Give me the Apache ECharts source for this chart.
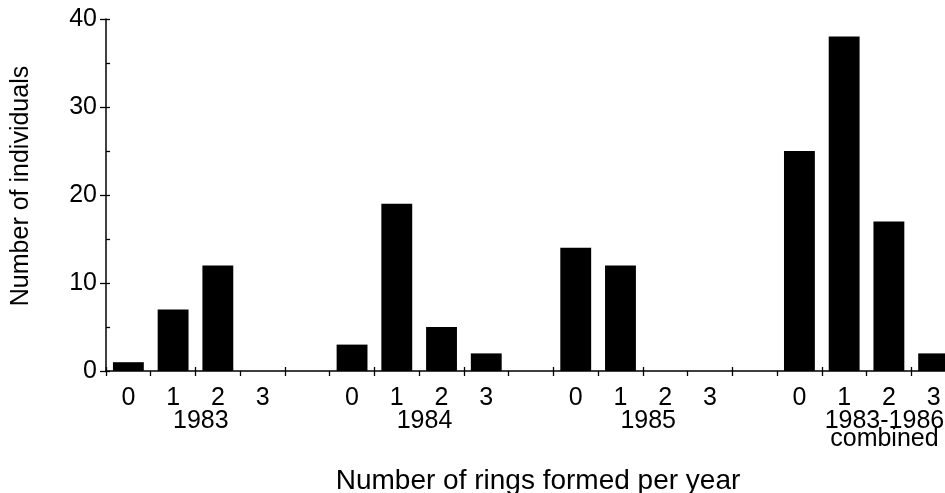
<!DOCTYPE html>
<html>
<head>
<meta charset="utf-8">
<script src="https://cdn.jsdelivr.net/npm/echarts@6/dist/echarts.min.js"></script>
<style>
html,body{margin:0;padding:0;background:#fff;}
#chart{width:945px;height:493px;}
</style>
</head>
<body>
<div id="chart"></div>
<script>
// ---- data ----
const groups = ['1983', '1984', '1985', '1983-1986\ncombined'];
const rings = ['0', '1', '2', '3'];
const counts1983 = [1, 7, 12, 0];
const counts1984 = [3, 19, 5, 2];
const counts1985 = [14, 12, 0, 0];
const countsCombined = [25, 38, 17, 2];
const yTicks = [0, 10, 20, 30, 40];

const groupCounts = [counts1983, counts1984, counts1985, countsCombined];

// build category slots: 4 rings per group + an empty gap slot between groups
const categories = [];
const values = [];
groups.forEach((g, gi) => {
  rings.forEach((r, ri) => {
    categories.push(g + '|' + r);
    values.push(groupCounts[gi][ri]);
  });
  if (gi < groups.length - 1) {
    categories.push('gap' + gi);
    values.push('-');
  }
});

const FONT = "'Liberation Sans', Arial, Helvetica, sans-serif";
const chart = echarts.init(document.getElementById('chart'), null, {renderer: 'canvas'});

const groupLabelPos = [1.62, 6.62, 11.62, 16.9];

chart.setOption({
  animation: false,
  backgroundColor: '#ffffff',
  grid: {left: 106, top: 19, bottom: 122, right: -11, containLabel: false, outerBoundsMode: 'none'},
  xAxis: [
    {
      type: 'category',
      data: categories,
      boundaryGap: true,
      axisLine: {show: true, onZero: false, lineStyle: {color: '#000', width: 1.5}},
      axisTick: {show: true, inside: false, length: 5, lineStyle: {color: '#000', width: 1.3}},
      axisLabel: {
        show: true, interval: 0, margin: 15,
        fontFamily: FONT, fontSize: 25, color: '#000',
        formatter: v => v.startsWith('gap') ? '' : v.split('|')[1]
      },
      splitLine: {show: false},
      name: 'Number of rings formed per year',
      nameLocation: 'middle',
      nameGap: 96,
      nameTextStyle: {fontFamily: FONT, fontSize: 28, color: '#000', padding: [0, 0, 0, 14]}
    },
    {
      type: 'category',
      data: categories,
      gridIndex: 0,
      position: 'bottom',
      axisLine: {show: false, onZero: false},
      axisTick: {show: true, inside: true, length: 4, lineStyle: {color: '#000', width: 1.3}},
      axisLabel: {show: false},
      splitLine: {show: false}
    },
    {
      type: 'value',
      gridIndex: 0,
      position: 'bottom',
      min: -0.5,
      max: categories.length - 0.5,
      axisLine: {show: false, onZero: false},
      axisTick: {show: false},
      splitLine: {show: false},
      axisLabel: {
        show: true,
        customValues: groupLabelPos,
        margin: 41,
        fontFamily: FONT, fontSize: 25, lineHeight: 18, color: '#000',
        formatter: v => {
          const i = groupLabelPos.findIndex(p => Math.abs(p - v) < 1e-6);
          return i >= 0 ? groups[i] : '';
        }
      }
    }
  ],
  yAxis: [
    {
      type: 'value',
      min: 0, max: 40, interval: 10,
      position: 'left',
      axisLine: {show: true, onZero: false, lineStyle: {color: '#000', width: 1.5}},
      axisTick: {show: true, inside: false, length: 6, lineStyle: {color: '#000', width: 1.3}},
      axisLabel: {margin: 9, fontFamily: FONT, fontSize: 25, color: '#000',
        customValues: yTicks},
      splitLine: {show: false},
      name: 'Number of individuals',
      nameLocation: 'middle',
      nameGap: 72,
      nameRotate: 90,
      nameTextStyle: {fontFamily: FONT, fontSize: 25, color: '#000', padding: [0, 0, 0, 18]}
    },
    {
      type: 'value',
      min: 0, max: 40, interval: 5,
      position: 'left',
      offset: 0,
      axisLine: {show: false, onZero: false},
      axisTick: {show: true, inside: true, length: 4, lineStyle: {color: '#000', width: 1.3}},
      axisLabel: {show: false},
      splitLine: {show: false}
    }
  ],
  series: [
    {
      type: 'bar',
      xAxisIndex: 0,
      yAxisIndex: 0,
      data: values,
      barCategoryGap: '31%',
      itemStyle: {color: '#000'},
      silent: true
    }
  ]
});
</script>
</body>
</html>
